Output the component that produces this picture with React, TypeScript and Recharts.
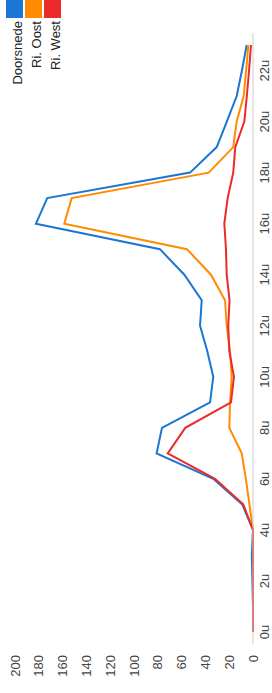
import React from "react";
import { LineChart, Line, XAxis, YAxis } from "recharts";

const hours = ["0u","1u","2u","3u","4u","5u","6u","7u","8u","9u","10u","11u","12u","13u","14u","15u","16u","17u","18u","19u","20u","21u","22u","23u"];
const doorsnede = [0, 0, 0.5, 1, 0, 9, 33.4, 81, 76.5, 36.1, 33.4, 38.4, 44.5, 43.1, 57.7, 78.2, 182.4, 172.9, 52.9, 30.5, 22, 13.7, 9.3, 5.3];
const riOost = [0, 0, 0, 0, 0, 3, 6, 9.5, 19.9, 19.3, 17.9, 19.3, 22.1, 23.5, 35.3, 55.5, 158.6, 152.4, 37.2, 16.6, 13.7, 7.8, 5.8, 3.9];
const riWest = [0, 0, 0, 0, 0, 8.2, 31.9, 71.7, 56.9, 18.5, 16, 19.9, 20.8, 19.7, 22.1, 22.7, 24.1, 21.3, 16.6, 14.9, 7.3, 5.2, 3.3, 1.7];
const valueTicks = [0, 20, 40, 60, 80, 100, 120, 140, 160, 180, 200];

const seriesNames = ["Doorsnede", "Ri. Oost", "Ri. West"];
const seriesKeys = ["doorsnede", "riOost", "riWest"];
const seriesColors = ["#1a76d2", "#ff8c00", "#ec2a2a"];

const data = hours.map((h, i) => ({
  hour: h,
  doorsnede: doorsnede[i],
  riOost: riOost[i],
  riWest: riWest[i],
}));

const FONT = '"Liberation Sans", Arial, sans-serif';

export default function App() {
  return (
    <div style={{ position: "fixed", left: 0, top: 0, width: 272, height: 693, overflow: "hidden", background: "#fff" }}>
      <div
        style={{
          position: "absolute",
          left: 0,
          top: 0,
          width: 693,
          height: 272,
          transformOrigin: "0 0",
          transform: "translate(0px, 693px) rotate(-90deg)",
          fontFamily: FONT,
        }}
      >
        <LineChart width={693} height={272} data={data} margin={{ top: 15, right: 33, bottom: 0, left: 0 }}>
          <XAxis
            dataKey="hour"
            interval={1}
            padding={{ left: 12, right: 12 }}
            axisLine={{ stroke: "#cccccc" }}
            tickLine={false}
            tickSize={0}
            tickMargin={7}
            height={19}
            tick={{ fill: "#444", fontSize: 13, fontFamily: FONT }}
          />
          <YAxis
            type="number"
            domain={[0, 200]}
            ticks={valueTicks}
            axisLine={false}
            tickLine={false}
            tickSize={0}
            tickMargin={11}
            width={49}
            tick={{ fill: "#444", fontSize: 13, fontFamily: FONT }}
          />
          {seriesKeys.map((k, i) => (
            <Line
              key={k}
              type="linear"
              dataKey={k}
              name={seriesNames[i]}
              stroke={seriesColors[i]}
              strokeWidth={2}
              dot={false}
              activeDot={false}
              isAnimationActive={false}
            />
          ))}
        </LineChart>
        {seriesNames.map((n, i) => (
          <React.Fragment key={n}>
            <div
              style={{
                position: "absolute",
                left: 675,
                top: 6 + i * 19,
                width: 18,
                height: 17,
                background: seriesColors[i],
              }}
            />
            <div
              style={{
                position: "absolute",
                right: 21,
                top: 8.6 + i * 19,
                lineHeight: "17px",
                fontSize: 13,
                color: "#222",
                whiteSpace: "nowrap",
                fontFamily: FONT,
              }}
            >
              {n}
            </div>
          </React.Fragment>
        ))}
      </div>
    </div>
  );
}
